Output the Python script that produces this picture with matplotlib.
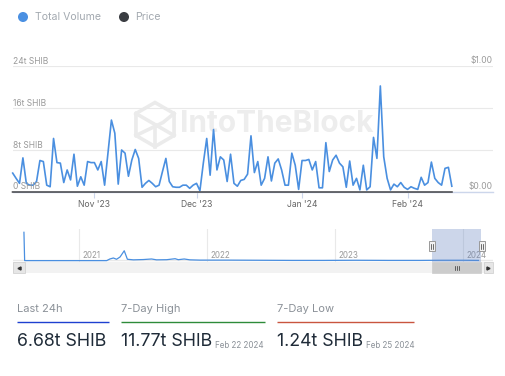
import numpy as np
import pandas as pd
import matplotlib
matplotlib.use("Agg")
import matplotlib.pyplot as plt
from matplotlib import transforms
from matplotlib.patches import Rectangle, Circle, Polygon
from matplotlib.lines import Line2D

plt.rcParams['font.family'] = ['Inter', 'DejaVu Sans']

# ---------------- data ----------------
volume_start = "2023-10-08"
volume_t = [3.6, 2.6, 1.65, 6.5, 1.65, 1.3, 1.3, 2.0, 6.0, 5.8,
            1.3, 1.0, 10.2, 5.6, 5.5, 1.8, 4.2, 2.3, 7.2, 1.1,
            2.9, 1.3, 5.8, 5.6, 5.6, 4.2, 5.8, 1.3, 7.5, 13.7,
            11.2, 1.5, 8.0, 7.4, 3.0, 6.1, 8.1, 6.4, 0.9, 1.65,
            2.2, 1.65, 1.0, 1.3, 3.9, 6.4, 2.0, 1.0, 0.9, 0.9,
            1.3, 1.3, 0.7, 1.3, 1.65, 0.25, 5.5, 10.2, 3.2, 11.9,
            4.2, 6.7, 6.1, 2.0, 7.2, 1.65, 1.1, 2.2, 2.4, 3.4,
            10.7, 3.7, 5.8, 1.3, 2.6, 6.7, 2.1, 5.5, 6.3, 4.2,
            1.3, 1.3, 7.4, 5.1, 0.5, 6.0, 6.0, 6.2, 4.2, 5.8,
            0.8, 0.8, 9.4, 3.9, 6.1, 7.0, 5.5, 4.8, 0.9, 5.9,
            1.3, 2.6, 0.4, 5.1, 0.4, 1.0, 10.4, 6.4, 20.2, 6.7,
            2.6, 0.4, 1.5, 1.0, 1.8, 0.9, 0.5, 1.0, 0.7, 0.5,
            2.8, 1.3, 1.8, 5.7, 2.6, 1.8, 1.3, 4.5, 4.7, 1.1]

price_dates = ["2023-10-08", "2023-11-01", "2023-12-01", "2024-01-01", "2024-02-01", "2024-02-14"]
price_usd = [0.0000072, 0.0000074, 0.0000096, 0.0000106, 0.0000094, 0.0000098]

y_ticks = [0, 8, 16, 24]
y_labels = ["0 SHIB", "8t SHIB", "16t SHIB", "24t SHIB"]
x_ticks = ["2023-11-01", "2023-12-01", "2024-01-01", "2024-02-01"]
x_labels = ["Nov '23", "Dec '23", "Jan '24", "Feb '24"]

nav_dates = ["2020-07-28", "2020-07-30", "2021-03-21", "2021-03-30", "2021-04-09",
             "2021-04-18", "2021-04-28", "2021-05-10", "2021-05-19", "2021-06-05",
             "2021-07-03", "2021-07-27", "2021-08-10", "2021-09-08", "2021-10-02",
             "2021-10-11", "2021-10-28", "2021-11-13", "2021-12-12", "2022-03-01",
             "2022-06-01", "2022-09-01", "2022-12-01", "2023-03-01", "2023-06-01",
             "2023-09-01", "2023-11-01", "2024-01-01", "2024-02-14"]
nav_values = [100, 0.3, 0.3, 6, 9.5, 5, 13, 35, 5, 3,
              4, 6, 3, 3.5, 7, 3.5, 6, 3, 2, 2,
              1.5, 1, 1, 1.5, 1, 1, 1.5, 1.5, 1]
nav_years = ["2021-01-01", "2022-01-01", "2023-01-01", "2024-01-01"]
nav_year_labels = ["2021", "2022", "2023", "2024"]

stats_titles = ["Last 24h", "7-Day High", "7-Day Low"]
stats_values = ["6.68t SHIB", "11.77t SHIB", "1.24t SHIB"]
stats_dates = ["", "Feb 22 2024", "Feb 25 2024"]

# ---------------- style ----------------
W, H = 505, 376
BLUE = "#4a8fe0"
DARK = "#454549"
GRID = "#e9e9e9"
AXIS = "#ccd6eb"
LABEL = "#9a9a9a"

fig = plt.figure(figsize=(W / 100, H / 100), dpi=100)
fig.patch.set_facecolor("white")


def rect(l, t, r, b):
    return [l / W, 1 - b / H, (r - l) / W, (b - t) / H]


# overlay axes in pixel coords (for UI decorations)
ov = fig.add_axes([0, 0, 1, 1], zorder=0)
ov.set_xlim(0, W)
ov.set_ylim(H, 0)
ov.axis("off")

# ---- watermark ----
ov.text(180, 124, "IntoTheBlock", fontsize=21.5, fontweight="bold", color="#ededed",
        ha="left", va="center", zorder=1)
cx, cy, rr = 155, 124.5, 22
ang = np.deg2rad(np.arange(6) * 60 + 30)
hexpts = np.column_stack([cx + rr * np.cos(ang), cy + rr * np.sin(ang)])
ov.add_patch(Polygon(hexpts, closed=True, fill=False, ec="#ebebeb", lw=2.6, zorder=1))
for (a, b) in [(1, 4), (2, 5), (0, 3)]:
    pass
ov.plot([hexpts[3][0], cx, hexpts[0][0]], [hexpts[3][1], cy, hexpts[0][1]], color="#ebebeb", lw=2.6, zorder=1)
ov.plot([hexpts[2][0], cx + 8, hexpts[5][0]], [hexpts[2][1], cy - 2, hexpts[5][1]], color="#ebebeb", lw=2.6, zorder=1)
ov.plot([cx, cx], [cy, hexpts[1][1]], color="#ebebeb", lw=2.6, zorder=1)

# ---------------- main chart ----------------
dates = pd.date_range(volume_start, periods=len(volume_t), freq="D")
ax = fig.add_axes(rect(12.7, 66, 493, 192), zorder=2)
ax.patch.set_alpha(0)
ax.plot(dates, volume_t, color=BLUE, lw=1.2, clip_on=False, zorder=3, solid_joinstyle="round")
x0 = pd.Timestamp(volume_start)
ax.set_xlim(x0, x0 + pd.Timedelta(days=141.1))
ax.set_ylim(0, 24)
for s in ["top", "right", "left"]:
    ax.spines[s].set_visible(False)
ax.spines["bottom"].set_color(AXIS)
ax.spines["bottom"].set_linewidth(1.0)
ax.set_yticks(y_ticks)
ax.yaxis.grid(True, color=GRID, lw=0.8)
ax.tick_params(axis="y", length=0, labelleft=False)
ax.set_axisbelow(True)
ax.set_xticks(pd.to_datetime(x_ticks))
ax.set_xticklabels(x_labels)
ax.tick_params(axis="x", length=4.3, width=0.8, color=AXIS, pad=1.5, labelsize=6.2, labelcolor="#666666")

ytr = transforms.offset_copy(ax.get_yaxis_transform(), fig=fig, x=0.5, y=2.5, units="dots")
for v, lab in zip(y_ticks, y_labels):
    ax.text(0, v, lab, transform=ytr, ha="left", va="baseline", fontsize=6.1, color=LABEL, zorder=4)

ax2 = ax.twinx()
ax2.set_zorder(3)
ax2.patch.set_alpha(0)
ax2.set_ylim(0, 1)
ax2.plot(pd.to_datetime(price_dates), price_usd, color=DARK, lw=1.4, clip_on=False, alpha=0.8)
ax2.axis("off")
rtr = transforms.offset_copy(ax2.get_yaxis_transform(), fig=fig, x=0, y=2.7, units="dots")
for v, lab in [(1, "$1.00"), (0, "$0.00")]:
    ax2.text(1, v, lab, transform=rtr, ha="right", va="baseline", fontsize=6.1, color=LABEL)

# ---------------- legend ----------------
ov.add_patch(Circle((23, 17), 4.3, color="#4a90e2", zorder=5))
ov.text(35, 17.5, "Total Volume", fontsize=7.6, color="#a3a9b0", va="center", ha="left")
ov.add_patch(Circle((124, 17), 4.3, color="#3a3d42", zorder=5))
ov.text(135, 17.5, "Price", fontsize=7.6, color="#a3a9b0", va="center", ha="left")

# ---------------- navigator ----------------
nav = fig.add_axes(rect(13, 229, 493, 262), zorder=2)
nav.patch.set_alpha(0)
nd = pd.to_datetime(nav_dates)
yr0 = pd.Timestamp("2021-01-01")
nav.set_xlim(yr0 - pd.Timedelta(days=(79 - 13) / 0.3507), yr0 + pd.Timedelta(days=(493 - 79) / 0.3507))
nav.set_ylim(-4.6, 111.6)
nav.plot(nd, nav_values, color=BLUE, lw=0.9, zorder=3)
for s in nav.spines.values():
    s.set_visible(False)
nav.set_yticks([])
nav.set_xticks([])
for d, lab in zip(pd.to_datetime(nav_years), nav_year_labels):
    nav.axvline(d, color=GRID, lw=0.8, zorder=1)
    ntr = transforms.offset_copy(nav.get_xaxis_transform(), fig=fig, x=3, y=0, units="dots")
    nav.text(d, 0.125, lab, transform=ntr, fontsize=5.8, color=LABEL, ha="left", va="baseline", zorder=2)
nav.axhline(1, color=GRID, lw=1.0)

# mask + handles (pixel coords)
ov2 = fig.add_axes([0, 0, 1, 1], zorder=4)
ov2.set_xlim(0, W)
ov2.set_ylim(H, 0)
ov2.axis("off")
ov2.add_patch(Rectangle((432, 229), 49, 33, color=(102 / 255, 133 / 255, 194 / 255), alpha=0.33, lw=0))
for hx in (431.5, 481.5):
    ov2.add_patch(Rectangle((hx - 3, 240.7), 6, 10.5, fc="#f2f2f2", ec="#999999", lw=0.7))
    ov2.plot([hx - 1, hx - 1], [243.5, 248.5], color="#333333", lw=0.5)
    ov2.plot([hx + 1, hx + 1], [243.5, 248.5], color="#333333", lw=0.5)

# scrollbar
ov2.add_patch(Rectangle((13, 262), 480, 11.3, fc="#f2f2f2", ec="none"))
ov2.add_patch(Rectangle((13, 262), 12, 11.3, fc="#e6e6e6", ec="#cccccc", lw=0.5))
ov2.add_patch(Rectangle((483.5, 262), 9.5, 11.3, fc="#e6e6e6", ec="#cccccc", lw=0.5))
ov2.add_patch(Rectangle((432, 262), 49, 11.3, fc="#cccccc", ec="#cccccc", lw=0.5))
ov2.plot([19], [267.6], marker="<", ms=2.2, color="#333333")
ov2.plot([488.2], [267.6], marker=">", ms=2.2, color="#333333")
for rx in (454.5, 456.5, 458.5):
    ov2.plot([rx, rx], [265.5, 270], color="#333333", lw=0.5)

# ---------------- stats ----------------
stat_x = [17, 121, 277]
stat_r = [109, 265, 414]
stat_colors = ["#1e40d0", "#2e8b3a", "#c9553f"]
for x, r, c, t, v, d in zip(stat_x, stat_r, stat_colors, stats_titles, stats_values, stats_dates):
    ov2.text(x, 312.3, t, fontsize=8, color="#8b9198", ha="left", va="baseline")
    ov2.plot([x, r], [321.7, 321.7], color=c, lw=1.0, solid_capstyle="butt")
    tv = ov2.text(x, 346, v, fontsize=12.8, color="#1f2b38", ha="left", va="baseline")
    if d:
        ov2.annotate(d, xy=(1, 0), xycoords=tv, xytext=(3, 0), textcoords="offset pixels",
                     fontsize=5.8, color="#8b9198", ha="left", va="bottom")

fig.savefig("out.png", dpi=100, facecolor="white")
